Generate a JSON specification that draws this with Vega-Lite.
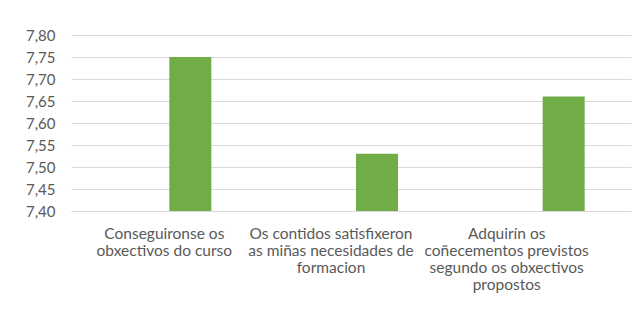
{
  "$schema": "https://vega.github.io/schema/vega-lite/v6.json",
  "width": 560,
  "height": 176,
  "autosize": "none",
  "padding": {"left": 71, "top": 35, "right": 11, "bottom": 102},
  "background": "white",
  "config": {
    "locale": {"number": {"decimal": ",", "thousands": ".", "grouping": [3], "currency": ["", " €"]}},
    "view": {"stroke": null},
    "font": "Lato"
  },
  "data": {
    "values": [
      {"item": "Conseguironse os|obxectivos do curso", "valor": 7.75},
      {"item": "Os contidos satisfixeron|as miñas necesidades de|formacion", "valor": 7.53},
      {"item": "Adquirín os|coñecementos previstos|segundo os obxectivos|propostos", "valor": 7.66}
    ]
  },
  "mark": {"type": "bar", "color": "#70ad47", "width": 42, "xOffset": 26},
  "encoding": {
    "x": {
      "field": "item",
      "type": "nominal",
      "sort": null,
      "scale": {"paddingInner": 0, "paddingOuter": 0},
      "axis": {
        "title": null,
        "labelAngle": 0,
        "labelExpr": "split(datum.value, '|')",
        "labelFont": "Lato",
        "labelFontSize": 15.5,
        "labelColor": "#595959",
        "labelLineHeight": 17,
        "labelPadding": 15,
        "labelOffset": {
          "condition": [
            {"test": "datum.index == 0", "value": 0},
            {"test": "datum.index == 0.5", "value": -20}
          ],
          "value": -31
        },
        "ticks": false,
        "domain": true,
        "domainColor": "#d9d9d9",
        "grid": false,
        "labelLimit": 300
      }
    },
    "y": {
      "field": "valor",
      "type": "quantitative",
      "scale": {"domain": [7.4, 7.8], "zero": false, "nice": false, "clamp": true},
      "axis": {
        "title": null,
        "values": [7.4, 7.45, 7.5, 7.55, 7.6, 7.65, 7.7, 7.75, 7.8],
        "format": ".2f",
        "labelFont": "Lato",
        "labelFontSize": 15,
        "labelColor": "#595959",
        "labelPadding": 16,
        "ticks": false,
        "domain": false,
        "grid": true,
        "gridColor": "#d9d9d9",
        "gridWidth": 1
      }
    },
    "y2": {"datum": 7.4}
  }
}
